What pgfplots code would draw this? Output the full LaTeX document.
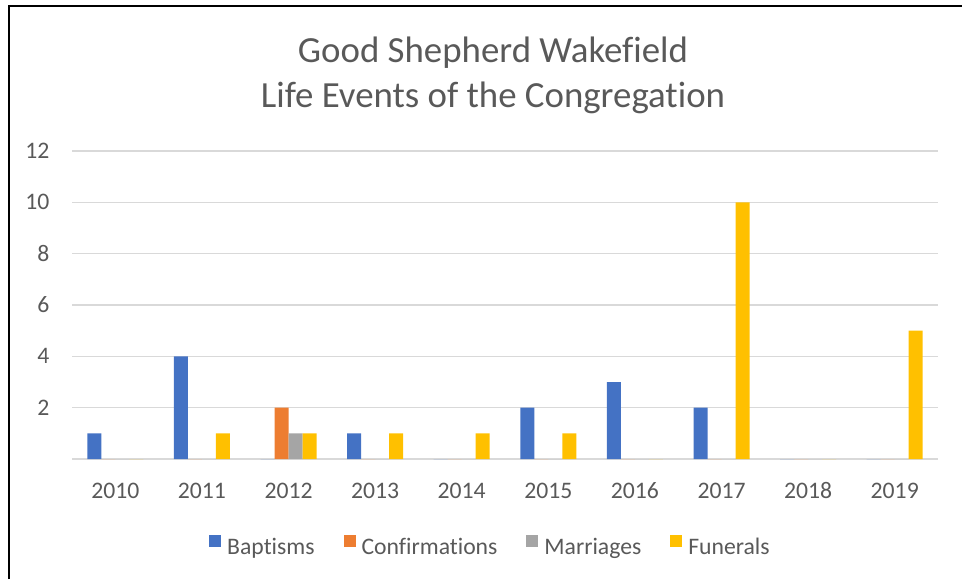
\documentclass[border=0pt]{standalone}
\usepackage{pgfplots}
\pgfplotsset{compat=1.18}
\usepackage{fontspec}
\setmainfont{Carlito}[Ligatures={NoCommon}]
\definecolor{cB}{HTML}{4472C4}
\definecolor{cC}{HTML}{ED7D31}
\definecolor{cM}{HTML}{A5A5A5}
\definecolor{cF}{HTML}{FFC000}
\definecolor{txt}{HTML}{595959}
\definecolor{grd}{HTML}{D9D9D9}
\begin{document}
\begin{tikzpicture}
\useasboundingbox (0pt,0pt) rectangle (365.56pt,-220.02pt);
\draw[black, line width=0.76pt] (3.42pt,-220.02pt) -- (3.42pt,-2.28pt) -- (365.56pt,-2.28pt);
\node[anchor=base, text=txt, font=\fontsize{14}{17}\selectfont, inner sep=0pt] at (187.34pt,-23.56pt) {Good Shepherd Wakefield};
\node[anchor=base, text=txt, font=\fontsize{14}{17}\selectfont, inner sep=0pt] at (187.34pt,-40.66pt) {Life Events of the Congregation};
\begin{axis}[
  at={(27.36pt,-174.42pt)}, anchor=south west,
  scale only axis, width=329.08pt, height=117.04pt,
  ybar=0pt, bar width=5.32pt,
  xmin=-0.5, xmax=9.5, ymin=0, ymax=12,
  xtick={0,...,9},
  xticklabels={2010,2011,2012,2013,2014,2015,2016,2017,2018,2019},
  ytick={0,2,4,6,8,10,12},
  yticklabels={{},2,4,6,8,10,12},
  ymajorgrids, grid style={grd, line width=0.57pt},
  axis line style={draw=none},
  major tick length=0pt,
  /pgf/number format/assume math mode=true,
  tick label style={text=txt, font=\fontsize{9}{11}\selectfont, inner sep=0pt},
  xticklabel style={anchor=base, yshift=-14.93pt},
  yticklabel style={anchor=east, xshift=-8.36pt},
  legend columns=4,
  legend style={draw=none, fill=none, at={(0.482,-0.285)}, anchor=center,
    font=\fontsize{9}{11}\selectfont, text=txt,
    nodes={inner sep=0pt},
    /tikz/every odd column/.append style={column sep=2.28pt},
    /tikz/every even column/.append style={column sep=11pt}},
  legend image code/.code={\fill[#1] (0pt,0.6pt) rectangle (4.56pt,5.16pt);},
]
\addplot[fill=cB, draw=none] coordinates {(0,1) (1,4) (2,0) (3,1) (4,0) (5,2) (6,3) (7,2) (8,0) (9,0)};
\addplot[fill=cC, draw=none] coordinates {(0,0) (1,0) (2,2) (3,0) (4,0) (5,0) (6,0) (7,0) (8,0) (9,0)};
\addplot[fill=cM, draw=none] coordinates {(0,0) (1,0) (2,1) (3,0) (4,0) (5,0) (6,0) (7,0) (8,0) (9,0)};
\addplot[fill=cF, draw=none] coordinates {(0,0) (1,1) (2,1) (3,1) (4,1) (5,1) (6,0) (7,10) (8,0) (9,5)};
\legend{Baptisms, Confirmations, Marriages, Funerals}
\end{axis}
\end{tikzpicture}
\end{document}
